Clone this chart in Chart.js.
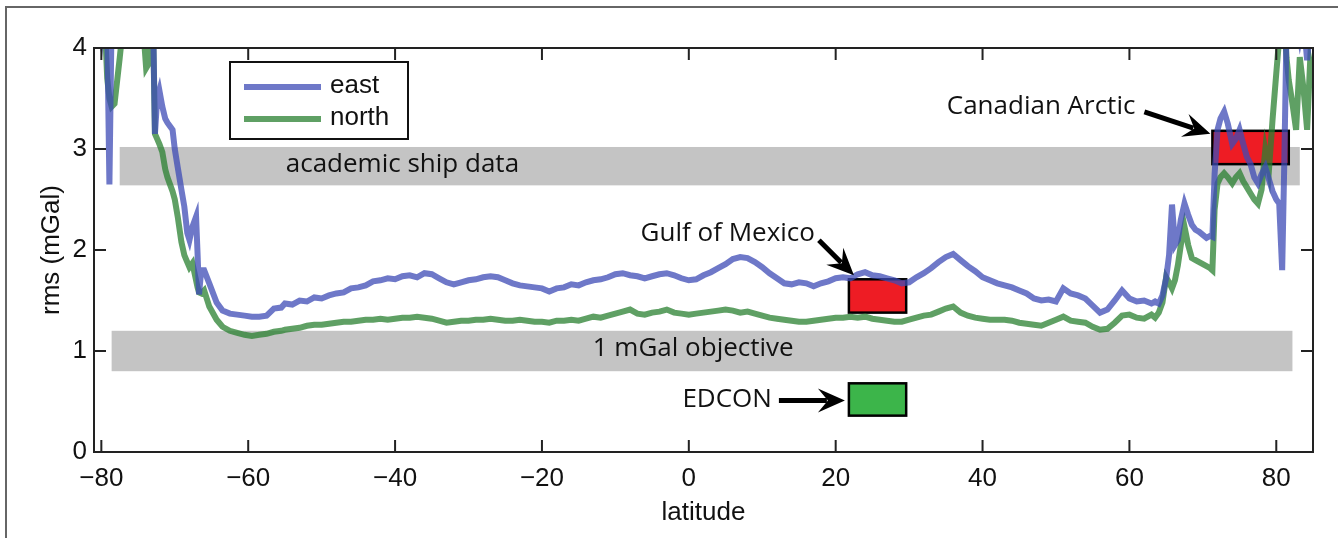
<!DOCTYPE html>
<html>
<head>
<meta charset="utf-8">
<script src="https://cdn.jsdelivr.net/npm/chart.js@4.4.1/dist/chart.umd.min.js"></script>
<style>
  body { margin: 0; background: #fff; }
  #wrap { width: 1338px; height: 538px; }
</style>
</head>
<body>
<div id="wrap"><canvas id="myChart"></canvas></div>
<script>
// latitude (deg) shared by both series
const latitude = [
  -81, -80.5, -80, -79.5, -79.2, -78.9, -78.6, -78.2, -77.5, -76.5, -75, -74.2, -73.9, -73.5, -73.0, -72.7,
  -72.4, -72.1, -71.7, -71.3, -71.0, -70.6, -70.3, -70.0, -69.6, -69.1, -68.7, -68.3, -68.0, -67.6, -67.1,
  -66.9, -66.7, -66.4, -66.0, -65.3, -64.3, -63.5, -62.5, -61.5, -60.5, -59.5, -58.5, -57.5, -56.5, -55.5,
  -55, -54, -53, -52, -51, -50, -49, -48, -47, -46, -45, -44, -43, -42, -41, -40, -39, -38, -37, -36,
  -35, -34, -33, -32, -31, -30, -29, -28, -27, -26, -25, -24, -23, -22, -21, -20, -19, -18, -17, -16,
  -15, -14, -13, -12, -11, -10, -9, -8, -7, -6, -5, -4, -3, -2, -1, 0, 1, 2, 3, 4,
  5, 6, 7, 8, 9, 10, 11, 12, 13, 14, 15, 16, 17, 18, 19, 20, 21, 22, 23, 24,
  25, 26, 27, 28, 29, 30, 31, 32, 33, 34, 35, 36, 37, 38, 39, 40, 41, 42, 43, 44,
  45, 46, 47, 48, 49, 50, 51, 52, 53, 54, 55, 56, 57, 58, 59, 60, 61, 62, 63,
  63.5, 64, 64.5, 65, 65.4, 65.8, 66.2, 66.6, 67, 67.5, 68, 68.5, 69, 69.5, 70, 70.5, 71, 71.3, 71.6,
  72, 72.4, 72.9, 73.4, 74, 74.5, 75, 75.5, 76, 76.5, 77, 77.5, 78, 78.5, 79, 79.5, 80, 80.4, 80.8,
  81.1, 81.4, 81.7, 82.2, 82.7, 83.2, 83.7, 84.2, 84.6, 85
];

// rms (mGal), east component
const east = [
  4.5, 4.3, 4.1, 4.4, 4.2, 2.65, 4.3, 4.6, 4.8, 5.0, 4.9, 4.6, 4.4, 4.3, 4.5, 3.15,
  3.5, 3.58, 3.42, 3.3, 3.26, 3.22, 3.19, 3.0, 2.82, 2.6, 2.43, 2.17, 2.1, 2.23, 2.33,
  1.97, 1.56, 1.8, 1.8, 1.67, 1.48, 1.4, 1.37, 1.36, 1.35, 1.34, 1.34, 1.35, 1.42, 1.43,
  1.47, 1.46, 1.50, 1.49, 1.53, 1.52, 1.55, 1.57, 1.58, 1.62, 1.63, 1.65, 1.69, 1.70, 1.72, 1.71, 1.74, 1.75, 1.73, 1.77,
  1.76, 1.72, 1.68, 1.66, 1.68, 1.70, 1.71, 1.73, 1.74, 1.73, 1.70, 1.67, 1.65, 1.64, 1.63, 1.62, 1.59, 1.62, 1.63, 1.66,
  1.65, 1.68, 1.70, 1.71, 1.73, 1.76, 1.77, 1.75, 1.74, 1.72, 1.74, 1.76, 1.77, 1.75, 1.72, 1.70, 1.71, 1.75, 1.78, 1.82,
  1.86, 1.91, 1.93, 1.92, 1.88, 1.83, 1.77, 1.72, 1.67, 1.66, 1.68, 1.67, 1.64, 1.67, 1.69, 1.72, 1.73, 1.72, 1.76, 1.78,
  1.75, 1.74, 1.72, 1.70, 1.67, 1.68, 1.73, 1.77, 1.82, 1.88, 1.93, 1.96, 1.90, 1.84, 1.79, 1.73, 1.70, 1.67, 1.65, 1.63,
  1.60, 1.57, 1.52, 1.50, 1.51, 1.49, 1.62, 1.57, 1.55, 1.52, 1.45, 1.38, 1.41, 1.50, 1.60, 1.52, 1.49, 1.50, 1.47,
  1.49, 1.47, 1.55, 1.72, 1.95, 2.45, 2.05, 2.10, 2.30, 2.46, 2.35, 2.25, 2.20, 2.18, 2.15, 2.12, 2.14, 2.13, 2.75,
  3.19, 3.30, 3.37, 3.25, 3.05, 3.10, 3.19, 3.05, 2.92, 2.85, 2.72, 2.66, 2.75, 2.82, 2.70, 2.58, 2.50, 2.46, 1.80,
  2.90, 4.2, 4.5, 4.4, 4.3, 4.1, 4.3, 3.88, 4.2, 4.3
];

// rms (mGal), north component
const north = [
  4.5, 4.4, 4.2, 4.2, 3.7, 3.5, 3.42, 3.45, 3.9, 4.6, 4.4, 4.1, 3.8, 3.85, 4.4, 3.15,
  3.1, 3.05, 2.97, 2.8, 2.72, 2.64, 2.58, 2.5, 2.33, 2.08, 1.95, 1.88, 1.83, 1.87, 1.7,
  1.63, 1.58, 1.57, 1.6, 1.44, 1.31, 1.24, 1.2, 1.18, 1.16, 1.15, 1.16, 1.17, 1.19, 1.2,
  1.21, 1.22, 1.23, 1.25, 1.26, 1.26, 1.27, 1.28, 1.29, 1.29, 1.30, 1.31, 1.31, 1.32, 1.31, 1.32, 1.33, 1.33, 1.34, 1.33,
  1.32, 1.30, 1.28, 1.29, 1.30, 1.30, 1.31, 1.31, 1.32, 1.31, 1.30, 1.30, 1.31, 1.30, 1.29, 1.29, 1.28, 1.30, 1.30, 1.31,
  1.30, 1.32, 1.34, 1.33, 1.35, 1.37, 1.39, 1.41, 1.37, 1.36, 1.38, 1.39, 1.41, 1.38, 1.37, 1.36, 1.37, 1.38, 1.39, 1.40,
  1.41, 1.40, 1.38, 1.39, 1.37, 1.35, 1.33, 1.32, 1.31, 1.30, 1.29, 1.29, 1.30, 1.31, 1.32, 1.33, 1.33, 1.34, 1.33, 1.34,
  1.32, 1.31, 1.30, 1.29, 1.29, 1.31, 1.33, 1.35, 1.36, 1.39, 1.42, 1.44, 1.38, 1.35, 1.33, 1.32, 1.31, 1.31, 1.31, 1.30,
  1.28, 1.27, 1.26, 1.25, 1.28, 1.31, 1.34, 1.30, 1.29, 1.28, 1.24, 1.21, 1.22, 1.28, 1.35, 1.36, 1.33, 1.32, 1.36,
  1.33, 1.38, 1.48, 1.73, 1.68, 1.62, 1.70, 1.85, 2.05, 2.23, 2.05, 1.92, 1.90, 1.88, 1.86, 1.84, 1.82, 1.80, 2.40,
  2.66, 2.72, 2.76, 2.72, 2.66, 2.72, 2.76, 2.68, 2.62, 2.56, 2.50, 2.46, 2.60, 2.99, 2.79, 3.30, 3.75, 4.1, 4.3,
  4.2, 3.9, 3.68, 3.45, 3.19, 3.91, 3.6, 3.19, 3.85, 3.7
];

const xTicks = [-80, -60, -40, -20, 0, 20, 40, 60, 80];
const yTicks = [0, 1, 2, 3, 4];

// shaded accuracy bands: [lat from, lat to], [rms low, rms high]
const bandNames = ["academic ship data", "1 mGal objective"];
const bandLat = [[-77.5, 83.2], [-78.6, 82.2]];
const bandRms = [[2.64, 3.02], [0.8, 1.2]];
const bandTextLat = [-39, 0.6];

// regional surveys
const regionNames = ["Gulf of Mexico", "EDCON", "Canadian Arctic"];
const regionLat = [[21.8, 29.6], [21.8, 29.6], [71.3, 81.7]];
const regionRms = [[1.38, 1.71], [0.36, 0.68], [2.85, 3.18]];

const colors = {
  east: "rgba(62, 75, 182, 0.75)",
  north: "rgba(42, 128, 48, 0.75)",
  band: "#c4c4c4",
  region: ["#ee1c24", "#3cb54a", "#ee1c24"],
};

const tickFont = '"Liberation Sans", Arial, sans-serif';
const noteFont = '26px "Open Sans", sans-serif';

function arrow(ctx, x0, y0, x1, y1) {
  const a = Math.atan2(y1 - y0, x1 - x0);
  const c = Math.cos(a), s = Math.sin(a);
  const len = 24, half = 12;
  const bx = x1 - len * c, by = y1 - len * s;
  ctx.strokeStyle = "#000";
  ctx.fillStyle = "#000";
  ctx.lineWidth = 5;
  ctx.beginPath();
  ctx.moveTo(x0, y0);
  ctx.lineTo(bx + 6 * c, by + 6 * s);
  ctx.stroke();
  ctx.beginPath();
  ctx.moveTo(x1, y1);
  ctx.lineTo(bx + half * s - 3 * c, by - half * c - 3 * s);
  ctx.lineTo(bx + 7 * c, by + 7 * s);
  ctx.lineTo(bx - half * s - 3 * c, by + half * c - 3 * s);
  ctx.closePath();
  ctx.fill();
}

function regionRect(x, y, i) {
  const l = x.getPixelForValue(regionLat[i][0]);
  const r = x.getPixelForValue(regionLat[i][1]);
  const t = y.getPixelForValue(regionRms[i][1]);
  const b = y.getPixelForValue(regionRms[i][0]);
  return { l, r, t, b };
}

const annotate = {
  id: "annotate",
  beforeDatasetsDraw(chart) {
    const { ctx, scales: { x, y } } = chart;
    ctx.save();
    bandNames.forEach((name, i) => {
      const l = x.getPixelForValue(bandLat[i][0]);
      const r = x.getPixelForValue(bandLat[i][1]);
      const t = y.getPixelForValue(bandRms[i][1]);
      const b = y.getPixelForValue(bandRms[i][0]);
      ctx.fillStyle = colors.band;
      ctx.fillRect(l, t, r - l, b - t);
      ctx.fillStyle = "#111";
      ctx.font = noteFont;
      ctx.textAlign = "center";
      ctx.textBaseline = "middle";
      ctx.fillText(name, x.getPixelForValue(bandTextLat[i]), (t + b) / 2 - 2);
    });

    // survey boxes sit under the curves
    regionNames.forEach((name, i) => {
      const { l, r, t, b } = regionRect(x, y, i);
      ctx.fillStyle = colors.region[i];
      ctx.fillRect(l, t, r - l, b - t);
      ctx.strokeStyle = "#000";
      ctx.lineWidth = 2.5;
      ctx.strokeRect(l, t, r - l, b - t);
    });
    ctx.restore();
  },
  afterDatasetsDraw(chart) {
    const { ctx, chartArea: area, scales: { x, y } } = chart;
    ctx.save();

    // labels and arrows for the surveys
    regionNames.forEach((name, i) => {
      const { l, t, b } = regionRect(x, y, i);
      ctx.font = noteFont;
      ctx.fillStyle = "#111";
      ctx.textAlign = "right";
      ctx.textBaseline = "middle";
      if (name === "EDCON") {
        const m = (t + b) / 2;
        ctx.fillText(name, l - 77, m);
        arrow(ctx, l - 70, m + 1, l - 4, m + 1);
      } else if (name === "Gulf of Mexico") {
        ctx.fillText(name, l - 34, t - 46);
        arrow(ctx, l - 30, t - 39, l + 5, t - 4);
      } else {
        ctx.fillText(name, l - 77, t - 24);
        arrow(ctx, l - 68, t - 19, l - 2, t + 3);
      }
    });

    // axes box with inward ticks
    ctx.strokeStyle = "#222";
    ctx.lineWidth = 2;
    ctx.strokeRect(area.left, area.top, area.right - area.left, area.bottom - area.top);
    ctx.beginPath();
    xTicks.forEach((v) => {
      const px = x.getPixelForValue(v);
      ctx.moveTo(px, area.bottom);
      ctx.lineTo(px, area.bottom - 12);
      ctx.moveTo(px, area.top);
      ctx.lineTo(px, area.top + 12);
    });
    yTicks.forEach((v) => {
      const py = y.getPixelForValue(v);
      ctx.moveTo(area.left, py);
      ctx.lineTo(area.left + 12, py);
      ctx.moveTo(area.right, py);
      ctx.lineTo(area.right - 12, py);
    });
    ctx.stroke();

    // legend
    const lx = area.left + 136, ly = area.top + 14, lw = 178, lh = 77;
    ctx.fillStyle = "#fff";
    ctx.fillRect(lx, ly, lw, lh);
    ctx.strokeStyle = "#111";
    ctx.lineWidth = 2;
    ctx.strokeRect(lx, ly, lw, lh);
    chart.data.datasets.forEach((ds, i) => {
      const yy = ly + 25 + i * 32;
      ctx.strokeStyle = ds.borderColor;
      ctx.lineWidth = 6;
      ctx.beginPath();
      ctx.moveTo(lx + 14, yy);
      ctx.lineTo(lx + 91, yy);
      ctx.stroke();
      ctx.fillStyle = "#111";
      ctx.font = "26px " + tickFont;
      ctx.textAlign = "left";
      ctx.textBaseline = "middle";
      ctx.fillText(ds.label, lx + 100, yy - 1);
    });
    ctx.restore();
  },
  afterDraw(chart) {
    const { ctx } = chart;
    ctx.save();
    ctx.strokeStyle = "#666";
    ctx.lineWidth = 2;
    ctx.beginPath();
    ctx.moveTo(6, 538);
    ctx.lineTo(6, 7);
    ctx.lineTo(1338, 7);
    ctx.stroke();
    ctx.restore();
  },
};

const ctx = document.getElementById("myChart");

new Chart(ctx, {
  type: "line",
  data: {
    datasets: [
      {
        label: "east",
        data: latitude.map((lat, i) => ({ x: lat, y: east[i] })),
        borderColor: colors.east,
        borderWidth: 6,
        pointRadius: 0,
      },
      {
        label: "north",
        data: latitude.map((lat, i) => ({ x: lat, y: north[i] })),
        borderColor: colors.north,
        borderWidth: 6,
        pointRadius: 0,
      },
    ],
  },
  options: {
    responsive: true,
    maintainAspectRatio: false,
    animation: false,
    layout: { padding: { left: 0, right: 25, top: 48, bottom: 0 } },
    plugins: { legend: { display: false }, tooltip: { enabled: false } },
    scales: {
      x: {
        type: "linear",
        min: -81,
        max: 85,
        afterBuildTicks: (scale) => {
          scale.ticks = xTicks.map((v) => ({ value: v }));
        },
        afterFit: (scale) => {
          scale.height = 86;
        },
        grid: { display: false, drawTicks: false },
        border: { display: false },
        ticks: {
          padding: 11,
          color: "#111",
          font: { family: tickFont, size: 26 },
          callback: (v) => String(v).replace("-", "\u2212"),
        },
        title: {
          display: true,
          text: "latitude",
          color: "#111",
          font: { family: tickFont, size: 26 },
          padding: { top: 0, bottom: 10 },
        },
      },
      y: {
        min: 0,
        max: 4,
        afterBuildTicks: (scale) => {
          scale.ticks = yTicks.map((v) => ({ value: v }));
        },
        afterFit: (scale) => {
          scale.width = 94;
        },
        grid: { display: false, drawTicks: false },
        border: { display: false },
        ticks: {
          padding: 7,
          color: "#111",
          font: { family: tickFont, size: 26 },
        },
        title: {
          display: true,
          text: "rms (mGal)",
          color: "#111",
          font: { family: tickFont, size: 26 },
          padding: { top: 36, bottom: 0 },
        },
      },
    },
  },
  plugins: [annotate],
});
</script>
</body>
</html>
